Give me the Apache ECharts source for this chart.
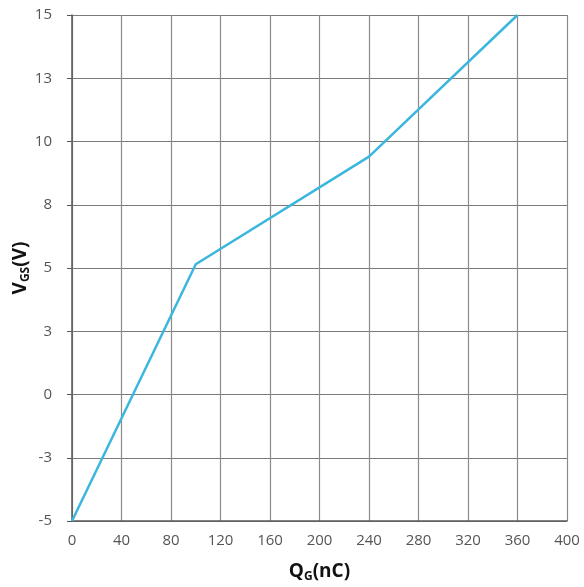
<!DOCTYPE html>
<html>
<head>
<meta charset="utf-8">
<script src="https://cdn.jsdelivr.net/npm/echarts@6/dist/echarts.min.js"></script>
<style>
  html, body { margin: 0; padding: 0; background: #fff; }
  #chart { width: 584px; height: 587px; }
</style>
</head>
<body>
<div id="chart"></div>
<script>
// Gate charge curve: gate-source voltage vs. total gate charge
const chargeNC = [0, 100, 240, 360];
const vgsVolts = [-5, 5.15, 9.4, 15];

const xMin = 0, xMax = 400, xStep = 40;
const yMin = -5, yMax = 15, yStep = 2.5;

// Round half away from zero so 2.5 -> 3, -2.5 -> -3
function roundLabel(v) {
  const r = Math.sign(v) * Math.round(Math.abs(v));
  return String(r === 0 ? 0 : r);
}

const points = chargeNC.map((q, i) => [q, vgsVolts[i]]);

const titleRich = {
  q: { fontFamily: 'Open Sans', fontSize: 19, fontWeight: 'bold', color: '#111' },
  sub: { fontFamily: 'Open Sans', fontSize: 12, fontWeight: 'bold', color: '#111', verticalAlign: 'bottom', padding: [10, 0, 0, 0] }
};

const chart = echarts.init(document.getElementById('chart'));
chart.setOption({
  animation: false,
  backgroundColor: '#ffffff',
  grid: { left: 72, top: 15, right: 17, bottom: 66, containLabel: false, outerBoundsMode: 'none' },
  xAxis: {
    type: 'value',
    min: xMin, max: xMax, interval: xStep,
    name: '{q|Q}{sub|G}{q|(nC)}',
    nameLocation: 'middle',
    nameGap: 40,
    nameMoveOverlap: false,
    nameTextStyle: { rich: titleRich },
    axisLine: { show: true, onZero: false, lineStyle: { color: '#595959', width: 1.5 } },
    axisTick: { show: false },
    axisLabel: { fontFamily: 'Open Sans', fontSize: 15, color: '#555', margin: 12 },
    splitLine: { show: true, lineStyle: { color: '#8a8a8a', width: 1.2 } }
  },
  yAxis: {
    type: 'value',
    min: yMin, max: yMax, interval: yStep,
    name: '{q|V}{sub|GS}{q|(V)}',
    nameLocation: 'middle',
    nameGap: 40,
    nameMoveOverlap: false,
    nameRotate: 90,
    nameTextStyle: { rich: titleRich },
    axisLine: { show: true, onZero: false, lineStyle: { color: '#595959', width: 1.5 } },
    axisTick: { show: true, inside: false, length: 5, lineStyle: { color: '#595959' } },
    axisLabel: {
      fontFamily: 'Open Sans', fontSize: 15, color: '#555', margin: 20,
      formatter: roundLabel
    },
    splitLine: { show: true, lineStyle: { color: '#7a7a7a', width: 1.2 } }
  },
  series: [{
    type: 'line',
    data: points,
    showSymbol: false,
    symbol: 'none',
    lineStyle: { color: '#3bb6de', width: 2.5 },
    clip: false
  }]
});
</script>
</body>
</html>
